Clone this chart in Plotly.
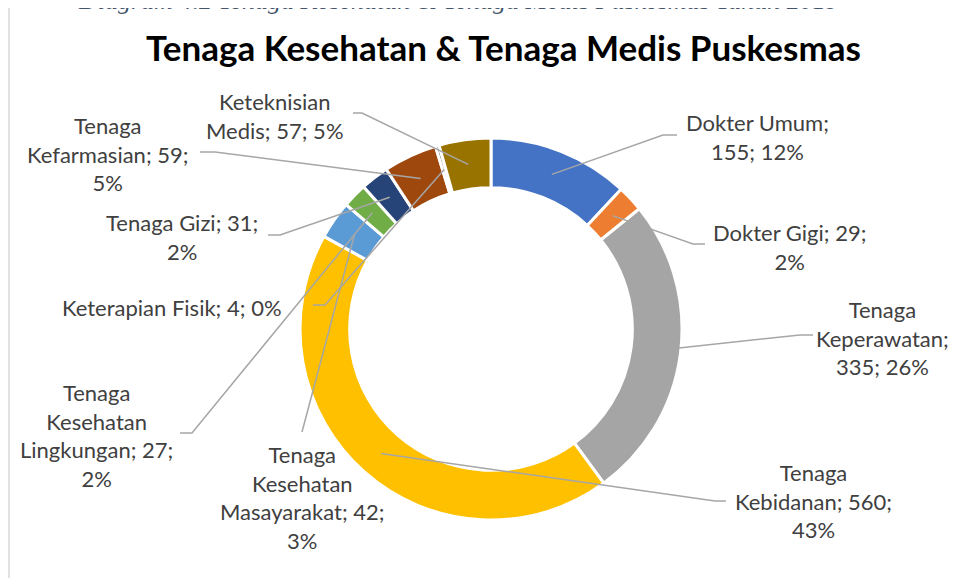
import math
import plotly.graph_objects as go

# ---- data ----
categories = ["Dokter Umum", "Dokter Gigi", "Tenaga Keperawatan", "Tenaga Kebidanan",
              "Tenaga Kesehatan Masayarakat", "Tenaga Kesehatan Lingkungan", "Tenaga Gizi",
              "Tenaga Kefarmasian", "Keterapian Fisik", "Keteknisian Medis"]
values = [155, 29, 335, 560, 42, 27, 31, 59, 4, 57]
percent_labels = ["12%", "2%", "26%", "43%", "3%", "2%", "2%", "5%", "0%", "5%"]
colors = ["#4472C4", "#ED7D31", "#A5A5A5", "#FFC000", "#5B9BD5", "#70AD47",
          "#264478", "#9E480E", "#636363", "#997300"]

title_text = "Tenaga Kesehatan & Tenaga Medis Puskesmas"
caption_text = "Diagram 4.2 Tenaga Kesehatan & Tenaga Medis Puskesmas Tahun 2019"

# ---- layout (screen pixels; page body has an 8px margin) ----
OFF = 8
W, H = 959 - OFF, 578 - OFF
CX, CY, R_OUT = 491, 329, 191
HOLE = 0.74
R_MID = R_OUT * (1 + HOLE) / 2

# words per line for each label
line_words = [[2, 2], [3, 1], [1, 1, 2], [1, 2, 1], [1, 1, 2, 1], [1, 1, 2, 1],
              [3, 1], [1, 2, 1], [4], [1, 3]]
label_pos = [(757, 137), (790, 247), (882, 338), (813, 501), (302, 497), (96, 435),
             (182, 237), (108, 154), (172, 307), (275, 116)]
elbows = [((663, 135), (677, 135)), ((693, 244), (705, 244)), ((800, 335), (813, 335)),
          ((715, 501), (726, 501)), ((302, 432), (302, 432)), ((192, 433), (180, 433)),
          ((280, 235), (268, 235)), ((215, 152), (200, 152)), ((325, 305), (313, 305)),
          ((362, 113), (353, 113))]


def px(x):
    return (x - OFF) / W


def py(y):
    return 1 - (y - OFF) / H


fig = go.Figure(go.Pie(
    labels=categories, values=values, hole=HOLE, sort=False, direction="clockwise",
    rotation=0, textinfo="none", hoverinfo="label+value+percent",
    marker=dict(colors=colors, line=dict(color="white", width=3)),
    domain=dict(x=[px(CX - R_OUT), px(CX + R_OUT)], y=[py(CY + R_OUT), py(CY - R_OUT)]),
    showlegend=False,
))

total = sum(values)
cum = 0
shapes = []
annotations = []
for i, (name, v) in enumerate(zip(categories, values)):
    mid = (cum + v / 2) / total * 2 * math.pi
    cum += v
    sx = CX + R_MID * math.sin(mid)
    sy = CY - R_MID * math.cos(mid)
    (ex, ey), (fx, fy) = elbows[i]
    path = f"M {px(sx)} {py(sy)} L {px(ex)} {py(ey)} L {px(fx)} {py(fy)}"
    shapes.append(dict(type="path", xref="paper", yref="paper", path=path,
                       line=dict(color="#A6A6A6", width=1.5)))
    words = f"{name}; {v}; {percent_labels[i]}".split(" ")
    lines = []
    k = 0
    for n in line_words[i]:
        lines.append(" ".join(words[k:k + n]))
        k += n
    lx, ly = label_pos[i]
    annotations.append(dict(x=px(lx), y=py(ly), xref="paper", yref="paper",
                            text="<br>".join(lines), showarrow=False,
                            xanchor="center", yanchor="middle", align="center",
                            font=dict(family="Lato", size=22, color="#404040")))

annotations.append(dict(x=px(503), y=py(47), xref="paper", yref="paper", text=f"<b>{title_text}</b>",
                        showarrow=False, xanchor="center", yanchor="middle",
                        font=dict(family="Lato", size=35, color="#000000")))
annotations.append(dict(x=px(458), y=py(1), xref="paper", yref="paper", text=f"<i>{caption_text}</i>",
                        showarrow=False, xanchor="center", yanchor="middle",
                        font=dict(family="Liberation Serif", size=26, color="#44546A")))

# chart frame
shapes.append(dict(type="line", xref="paper", yref="paper", x0=px(9), x1=px(970),
                   y0=py(7), y1=py(7), line=dict(color="#D9D9D9", width=1.5)))
shapes.append(dict(type="line", xref="paper", yref="paper", x0=px(9), x1=px(9),
                   y0=py(7), y1=py(590), line=dict(color="#D9D9D9", width=1.5)))

fig.update_layout(width=W, height=H, margin=dict(l=0, r=0, t=0, b=0),
                  paper_bgcolor="white", plot_bgcolor="white",
                  shapes=shapes, annotations=annotations)

fig.write_html("out.html")
